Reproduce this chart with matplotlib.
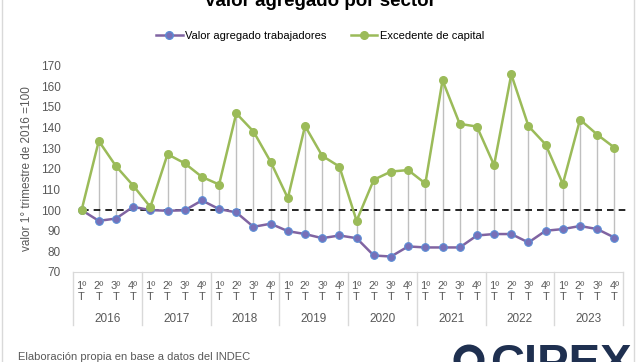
import matplotlib
matplotlib.use("Agg")
import matplotlib.pyplot as plt
from matplotlib.lines import Line2D
from matplotlib.patches import Circle

plt.rcParams['font.family'] = ['Liberation Sans', 'DejaVu Sans']

# datos (indice 1T 2016 = 100)
years = ['2016', '2017', '2018', '2019', '2020', '2021', '2022', '2023']
quarters = ['1º', '2º', '3º', '4º']
trabajadores = [100, 94.8, 95.9, 101.6, 100, 99.7, 99.9, 104.7,
                100.5, 98.9, 91.9, 93.4, 89.8, 88.4, 86.4, 87.7,
                86.4, 78.0, 77.5, 82.4, 81.9, 81.9, 81.9, 87.7,
                88.4, 88.4, 84.3, 90.0, 90.8, 92.3, 90.8, 86.7]
capital = [100, 133.5, 121.3, 111.9, 101.5, 127.1, 122.7, 116.1,
           112.4, 146.9, 138.1, 123.4, 105.8, 140.8, 126.3, 121.1,
           94.8, 114.7, 118.7, 119.4, 112.9, 162.9, 141.8, 140.5,
           121.8, 165.8, 140.7, 131.8, 112.7, 143.9, 136.6, 130.3]

purple = '#8064A2'
green = '#9BBB59'
gray = '#595959'

W, H = 640, 362
fig = plt.figure(figsize=(6.4, 3.62), dpi=100)
ax = fig.add_axes([73 / W, 1 - 272 / H, (623 - 73) / W, (272 - 65.7) / H])

x = list(range(len(capital)))
lo = [min(a, b) for a, b in zip(trabajadores, capital)]
hi = [max(a, b) for a, b in zip(trabajadores, capital)]
ax.vlines(x, lo, hi, color='#BFBFBF', lw=1, zorder=1)
ax.plot([0, 31.7], [100, 100], color='black', ls=(0, (4, 3)), lw=1.2, zorder=2, clip_on=False)
ax.plot(x, trabajadores, color=purple, lw=1.8, marker='o', ms=5.5,
        mfc='#7770B8', mec='#5B8ED6', mew=0.8, zorder=3)
ax.plot(x, capital, color=green, lw=1.8, marker='o', ms=5.5,
        mfc=green, mec=green, zorder=3)

ax.set_xlim(-0.5, 31.5)
ax.set_ylim(70, 170)
ax.set_yticks(range(70, 171, 10))
ax.tick_params(axis='y', length=0, pad=9, labelsize=8.5, labelcolor=gray)
ax.set_xticks([])
for s in ['top', 'right', 'left']:
    ax.spines[s].set_visible(False)
ax.spines['bottom'].set_color('#D9D9D9')
ax.set_ylabel('valor 1° trimestre de 2016 =100', fontsize=8.5, color=gray, labelpad=6)
ax.yaxis.set_label_coords(-(73 - 33) / 550, 0.5)

# eje de categorias en dos niveles
trans = ax.get_xaxis_transform()
dy = 206.3
for i in x:
    ax.text(i, -(286 - 272) / dy, quarters[i % 4], transform=trans, ha='center', va='center',
            fontsize=8, color=gray)
    ax.text(i, -(297 - 272) / dy, 'T', transform=trans, ha='center', va='center',
            fontsize=8, color=gray)
for k, yr in enumerate(years):
    ax.text(4 * k + 1.5, -(319 - 272) / dy, yr, transform=trans, ha='center', va='center',
            fontsize=8.5, color=gray)
for k in range(len(years) + 1):
    ax.plot([4 * k - 0.5, 4 * k - 0.5], [0, -(325 - 272) / dy], transform=trans,
            color='#D9D9D9', lw=1, clip_on=False)

fig.text(0.5, 1 - 6 / H, 'Valor agregado por sector', ha='center', va='baseline',
         fontsize=13.5, fontweight='bold', color='black')

handles = [Line2D([], [], color=purple, lw=1.8, marker='o', ms=5.5, mfc='#7770B8', mec='#5B8ED6'),
           Line2D([], [], color=green, lw=1.8, marker='o', ms=5.5, mfc=green, mec=green)]
fig.legend(handles, ['Valor agregado trabajadores', 'Excedente de capital'],
           loc='center', bbox_to_anchor=(0.5, 1 - 36 / H), ncol=2, frameon=False,
           fontsize=8, handlelength=2.4, handletextpad=0.2, columnspacing=2.2)

fig.text(18 / W, 1 - 357 / H, 'Elaboración propia en base a datos del INDEC',
         ha='left', va='center', fontsize=8, color=gray)

# logo
fig.text(490 / W, 1 - 343 / H, 'CIPEX', ha='left', va='top', fontsize=34,
         fontweight='bold', color='#1F3050')
fig.patches.append(Circle((469 / W, 1 - 360 / H), 0.0, transform=fig.transFigure))
circ = Circle((469, H - 360), 12, transform=None, fill=False, lw=5, ec='#1F3050')
fig.patches.append(circ)

fig.add_artist(Line2D([2 / W, 2 / W], [0, 1], color='#D9D9D9', lw=1))
fig.add_artist(Line2D([634 / W, 634 / W], [0, 1], color='#D9D9D9', lw=1))

fig.savefig('out.png', dpi=100)
